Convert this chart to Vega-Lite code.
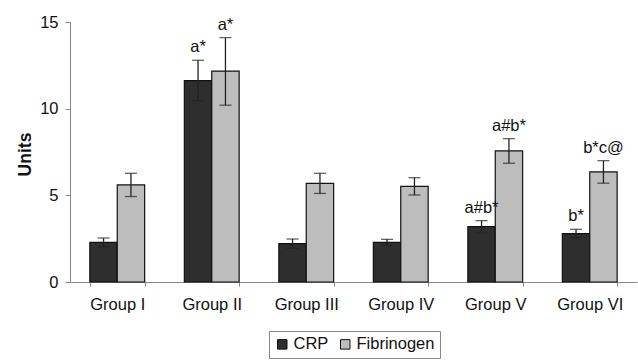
{
  "$schema": "https://vega.github.io/schema/vega-lite/v6.json",
  "width": 567,
  "height": 260,
  "autosize": "none",
  "padding": {"left": 70, "top": 22, "right": 1, "bottom": 78},
  "background": "white",
  "config": {
    "view": {"stroke": null},
    "font": "Liberation Sans",
    "axis": {"grid": false, "domainColor": "#888888", "tickColor": "#888888", "labelColor": "#111111", "titleColor": "#111111", "labelFont": "Liberation Sans", "titleFont": "Liberation Sans"}
  },
  "data": {
    "values": [
      {"group": "Group I", "series": "CRP", "value": 2.29, "lo": 2.04, "hi": 2.54, "label": ""},
      {"group": "Group I", "series": "Fibrinogen", "value": 5.6, "lo": 4.93, "hi": 6.27, "label": ""},
      {"group": "Group II", "series": "CRP", "value": 11.62, "lo": 10.46, "hi": 12.79, "label": "a*"},
      {"group": "Group II", "series": "Fibrinogen", "value": 12.17, "lo": 10.2, "hi": 14.1, "label": "a*"},
      {"group": "Group III", "series": "CRP", "value": 2.21, "lo": 1.94, "hi": 2.48, "label": ""},
      {"group": "Group III", "series": "Fibrinogen", "value": 5.69, "lo": 5.11, "hi": 6.27, "label": ""},
      {"group": "Group IV", "series": "CRP", "value": 2.29, "lo": 2.12, "hi": 2.46, "label": ""},
      {"group": "Group IV", "series": "Fibrinogen", "value": 5.52, "lo": 5.02, "hi": 6.02, "label": ""},
      {"group": "Group V", "series": "CRP", "value": 3.19, "lo": 2.84, "hi": 3.54, "label": "a#b*"},
      {"group": "Group V", "series": "Fibrinogen", "value": 7.56, "lo": 6.85, "hi": 8.27, "label": "a#b*"},
      {"group": "Group VI", "series": "CRP", "value": 2.79, "lo": 2.54, "hi": 3.04, "label": "b*"},
      {"group": "Group VI", "series": "Fibrinogen", "value": 6.35, "lo": 5.7, "hi": 7.0, "label": "b*c@"}
    ]
  },
  "encoding": {
    "x": {
      "field": "group", "type": "nominal", "sort": null,
      "scale": {"paddingInner": 0.42, "paddingOuter": 0.21},
      "axis": {"title": null, "labelAngle": 0, "labelFontSize": 16.5, "tickBand": "extent", "tickSize": 4, "labelPadding": 10}
    },
    "xOffset": {"field": "series", "type": "nominal", "sort": ["CRP", "Fibrinogen"]}
  },
  "layer": [
    {
      "mark": {"type": "bar", "stroke": "#111111", "strokeWidth": 1.2},
      "encoding": {
        "y": {
          "field": "value", "type": "quantitative",
          "scale": {"domain": [0, 15], "nice": false},
          "axis": {"values": [0, 5, 10, 15], "title": "Units", "titleFontSize": 17.5, "titleFontWeight": "bold", "titleX": -45, "titleY": 132, "titleAlign": "center", "titleBaseline": "middle", "labelFontSize": 16.5, "tickSize": 5, "labelPadding": 7}
        },
        "color": {
          "field": "series", "type": "nominal",
          "scale": {"domain": ["CRP", "Fibrinogen"], "range": ["#2e2e2e", "#bdbdbd"]},
          "legend": {
            "title": null, "orient": "none", "legendX": 199, "legendY": 309, "direction": "horizontal",
            "symbolType": "square", "symbolSize": 90, "symbolStrokeColor": "#111111", "symbolStrokeWidth": 1,
            "labelFontSize": 16.5, "labelColor": "#111111", "labelOffset": 3, "columnPadding": 8,
            "strokeColor": "#888888", "padding": 5
          }
        }
      }
    },
    {
      "mark": {"type": "rule", "color": "#222222", "strokeWidth": 1.3},
      "encoding": {"y": {"field": "lo", "type": "quantitative"}, "y2": {"field": "hi"}}
    },
    {
      "mark": {"type": "tick", "color": "#222222", "size": 12, "thickness": 1.3},
      "encoding": {"y": {"field": "lo", "type": "quantitative"}}
    },
    {
      "mark": {"type": "tick", "color": "#222222", "size": 12, "thickness": 1.3},
      "encoding": {"y": {"field": "hi", "type": "quantitative"}}
    },
    {
      "mark": {"type": "text", "baseline": "bottom", "dy": -5, "fontSize": 16.5, "color": "#111111"},
      "encoding": {"y": {"field": "hi", "type": "quantitative"}, "text": {"field": "label"}}
    }
  ]
}
